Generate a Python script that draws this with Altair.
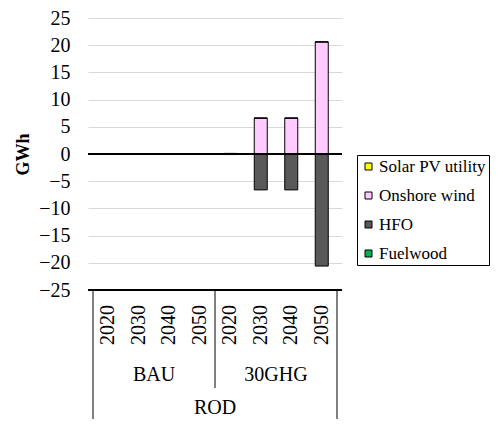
import altair as alt
import pandas as pd

scenarios = ["BAU", "BAU", "BAU", "BAU", "30GHG", "30GHG", "30GHG", "30GHG"]
years = ["2020", "2030", "2040", "2050", "2020", "2030", "2040", "2050"]
series = ["Solar PV utility", "Onshore wind", "HFO", "Fuelwood"]
colors = ["#FFFF00", "#FFCCFF", "#595959", "#00B050"]
solar = [0, 0, 0, 0, 0, 0, 0, 0]
wind = [0, 0, 0, 0, 0.1, 6.6, 6.6, 20.6]
hfo = [0, 0, 0, 0, -0.1, -6.6, -6.6, -20.6]
fuelwood = [0, 0, 0, 0, 0, 0, 0, 0]
groups = ["BAU", "30GHG"]
group_pos = [1.5, 5.5]
region = "ROD"

FONT = "Liberation Serif"
FS = 20

rows = []
for name, vals in zip(series, [solar, wind, hfo, fuelwood]):
    for i, v in enumerate(vals):
        rows.append({"idx": i, "series": name, "value": v, "order": series.index(name)})
df = pd.DataFrame(rows)
cats = pd.DataFrame({"idx": list(range(8)), "year": years, "scenario": scenarios})
grp = pd.DataFrame({"pos": group_pos, "label": groups})
reg = pd.DataFrame({"pos": [3.5], "label": [region]})

xscale = alt.Scale(domain=[-0.5, 7.5], nice=False, zero=False)
yscale = alt.Scale(domain=[-25, 25], nice=False)
yaxis = alt.Axis(title="GWh", values=list(range(-25, 26, 5)), grid=True, labelOverlap=False,
                 gridColor="#D9D9D9", gridWidth=1, ticks=False, domain=False,
                 labelFont=FONT, labelFontSize=FS, labelColor="black", labelPadding=18,
                 titleFont=FONT, titleFontSize=18, titleFontWeight="bold",
                 titleColor="black", titlePadding=6)

bars = alt.Chart(df).mark_bar(size=13, stroke="black", strokeWidth=1).encode(
    x=alt.X("idx:Q", scale=xscale, axis=None),
    y=alt.Y("value:Q", scale=yscale, stack="zero", axis=yaxis),
    color=alt.Color("series:N", scale=alt.Scale(domain=series, range=colors),
                    legend=alt.Legend(title=None, orient="none", legendX=269, legendY=137)),
    order=alt.Order("order:Q"),
)

zero = alt.Chart(cats).mark_rule(color="black", strokeWidth=1).encode(
    y=alt.Y(datum=0, scale=yscale, axis=yaxis), x=alt.value(0), x2=alt.value(254)
)

box_top = alt.Chart(cats).mark_rule(color="black", strokeWidth=1).encode(
    y=alt.value(272), x=alt.value(0), x2=alt.value(254)
)

edge = pd.DataFrame({"pos": [-0.5, 7.5]})
edges = alt.Chart(edge).mark_rule(color="black", strokeWidth=1).encode(
    x=alt.X("pos:Q", scale=xscale, axis=None), y=alt.value(272), y2=alt.value(401)
)
mid = alt.Chart(pd.DataFrame({"pos": [3.5]})).mark_rule(color="black", strokeWidth=1).encode(
    x=alt.X("pos:Q", scale=xscale, axis=None), y=alt.value(272), y2=alt.value(370)
)

year_txt = alt.Chart(cats).mark_text(angle=270, fontSize=FS, color="black", font=FONT,
                                     align="center", baseline="middle").encode(
    x=alt.X("idx:Q", scale=xscale, axis=None), y=alt.value(307), text="year:N"
)
grp_txt = alt.Chart(grp).mark_text(fontSize=FS, color="black", font=FONT,
                                   align="center", baseline="middle").encode(
    x=alt.X("pos:Q", scale=xscale, axis=None), y=alt.value(357), text="label:N"
)
reg_txt = alt.Chart(reg).mark_text(fontSize=FS, color="black", font=FONT,
                                   align="center", baseline="middle").encode(
    x=alt.X("pos:Q", scale=xscale, axis=None), y=alt.value(390), text="label:N"
)

chart = alt.layer(bars, zero, box_top, edges, mid, year_txt, grp_txt, reg_txt).properties(
    width=254, height=272,
    autosize=alt.AutoSizeParams(type="none"),
    padding={"left": 80, "top": 10, "right": 153, "bottom": 129},
).configure_view(stroke=None).configure_legend(
    symbolType="square", symbolSize=49, symbolStrokeColor="black", symbolStrokeWidth=1,
    labelFont=FONT, labelFontSize=17, labelColor="black", rowPadding=11, padding=3,
    strokeColor="black", fillColor="white", labelOffset=2, labelLimit=300,
)

chart.save("out.html", embed_options={"renderer": "svg", "actions": False})
